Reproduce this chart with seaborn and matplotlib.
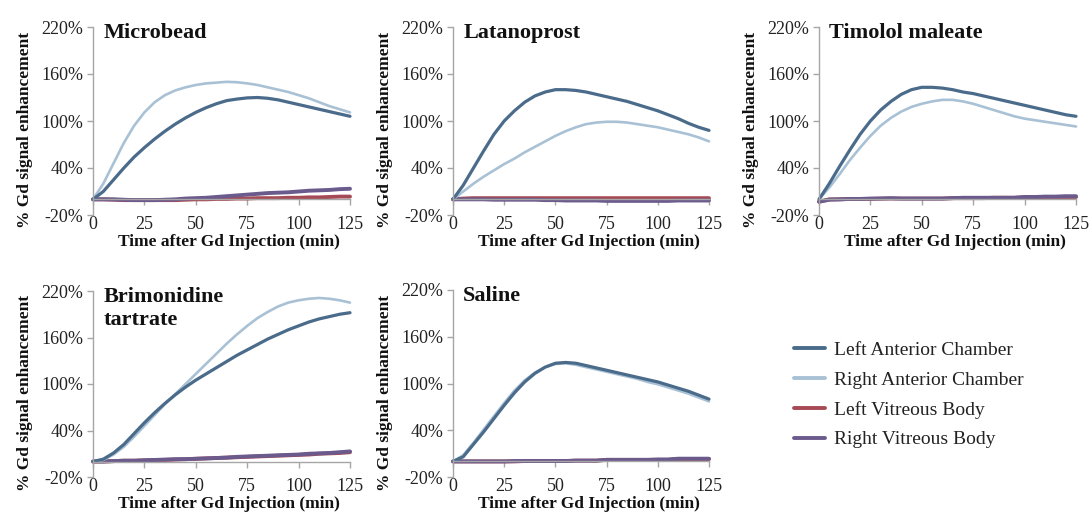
import numpy as np
import pandas as pd
import matplotlib
matplotlib.use("Agg")
import matplotlib.pyplot as plt
from matplotlib.ticker import FuncFormatter
from matplotlib.lines import Line2D
import seaborn as sns

sns.set_theme(style="white")
plt.rcParams['font.family'] = ['Liberation Serif', 'DejaVu Serif']

time_min = [0, 5, 10, 15, 20, 25, 30, 35, 40, 45, 50, 55, 60, 65, 70, 75, 80, 85, 90, 95, 100, 105, 110, 115, 120, 125]

series_names = ["Left Anterior Chamber", "Right Anterior Chamber", "Left Vitreous Body", "Right Vitreous Body"]
series_colors = ["#4b6b8b", "#a9c1d5", "#a64a55", "#6b5a8c"]

panel_titles = ["Microbead", "Latanoprost", "Timolol maleate", "Brimonidine\ntartrate", "Saline"]

# Microbead
mb_lac = [0, 10, 25, 40, 54, 66, 77, 87, 96, 104, 111, 117, 122, 126, 128, 129.5, 130, 129, 127, 124, 121, 118, 115, 112, 109, 106]
mb_rac = [0, 20, 46, 72, 94, 111, 124, 133, 139, 143, 146, 148, 149, 150, 149.5, 148, 146, 143, 140, 137, 133, 129, 124, 119, 115, 111]
mb_lvb = [0, 0, -0.5, -1, -1, -1, -1, -1, -1, -0.5, 0, 0, 0.5, 0.5, 1, 1, 1.5, 1.5, 1.5, 2, 2, 2.5, 2.5, 3, 3.5, 3.5]
mb_rvb = [0, 0, 0, -0.5, -1, -1, -1, -0.5, 0, 1, 1.5, 2, 3, 4, 5, 6, 7, 8, 8.5, 9, 10, 11, 11.5, 12, 13, 13.5]

# Latanoprost
la_lac = [0, 18, 40, 62, 83, 100, 113, 124, 132, 137, 140, 140, 139, 137, 134, 131, 128, 125, 121, 117, 113, 108, 103, 97, 92, 88]
la_rac = [0, 10, 20, 29, 37, 45, 52, 60, 67, 74, 81, 87, 92, 96, 98, 99, 99, 98, 96, 94, 92, 89, 86, 83, 79, 74]
la_lvb = [0, 1, 1.5, 1.5, 1.5, 1.5, 1.5, 1.5, 1.5, 1.5, 1.5, 1.5, 1.5, 1.5, 1.5, 1.5, 1.5, 1.5, 1.5, 1.5, 1.5, 1.5, 1.5, 1.5, 1.5, 1.5]
la_rvb = [0, 0, 0, 0, -0.5, -0.5, -0.5, -0.5, -0.5, -1, -1, -1.5, -1.5, -1.5, -1.5, -2, -2, -2, -2, -2, -2, -2, -1.5, -1.5, -1.5, -1.5]

# Timolol maleate
ti_lac = [0, 20, 42, 63, 83, 100, 114, 125, 134, 140, 143, 143, 142, 140, 137, 135, 132, 129, 126, 123, 120, 117, 114, 111, 108, 106]
ti_rac = [0, 15, 32, 50, 66, 81, 94, 104, 112, 118, 122, 125, 127, 127, 125, 122, 118, 114, 110, 106, 103, 101, 99, 97, 95, 93]
ti_lvb = [-3, 0, 0, 0.5, 0.5, 0.5, 1, 1, 1, 1, 1, 1, 1, 1.5, 1.5, 1.5, 1.5, 2, 2, 2, 2.5, 2.5, 3, 3, 3, 3]
ti_rvb = [-3, -0.5, 0, 0.5, 0.5, 1, 1, 1.5, 1, 1, 1, 1, 1, 1.5, 2, 2, 2, 2, 2, 2, 3, 3, 3.5, 3.5, 4, 4]

# Brimonidine tartrate
br_lac = [0, 3, 11, 22, 36, 50, 63, 75, 86, 96, 105, 113, 121, 129, 137, 144, 151, 158, 164, 170, 175, 180, 184, 187, 190, 192]
br_rac = [0, 2, 9, 19, 32, 46, 60, 74, 87, 100, 113, 126, 139, 152, 164, 175, 185, 193, 200, 205, 208, 210, 211, 210, 208, 205]
br_lvb = [0, 0, 0.5, 1, 1, 1.5, 2, 2, 2.5, 3, 3.5, 4, 4.5, 5, 5.5, 6, 6.5, 7, 7.5, 8, 8.5, 9, 10, 10.5, 11, 12]
br_rvb = [0, 0, 0.5, 1, 1, 1.5, 2, 2.5, 3, 3, 3.5, 4, 4.5, 5, 6, 6.5, 7, 7.5, 8, 8.5, 9, 10, 10.5, 11, 12, 13]

# Saline
sa_lac = [0, 6, 22, 38, 55, 72, 88, 102, 113, 121, 126, 127, 126, 123, 120, 117, 114, 111, 108, 105, 102, 98, 94, 90, 85, 80]
sa_rac = [0, 8, 24, 41, 58, 75, 91, 104, 114, 121, 125, 126, 124, 121, 118, 115, 112, 109, 106, 102, 99, 95, 91, 87, 82, 77]
sa_lvb = [0, 0, 0, 0, 0, 0, 0, 0.5, 0.5, 0.5, 0.5, 0.5, 1, 1, 1, 2, 2, 2, 2, 2, 2, 2, 3, 3, 3, 3]
sa_rvb = [0, 0, 0, 0, 0, 0, 0.5, 0.5, 0.5, 0.5, 0.5, 0.5, 1, 1, 1, 2, 2, 2, 2, 2, 2.5, 2.5, 3.5, 3.5, 3.5, 3.5]

panel_data = [
    [mb_lac, mb_rac, mb_lvb, mb_rvb],
    [la_lac, la_rac, la_lvb, la_rvb],
    [ti_lac, ti_rac, ti_lvb, ti_rvb],
    [br_lac, br_rac, br_lvb, br_rvb],
    [sa_lac, sa_rac, sa_lvb, sa_rvb],
]

y_ticks = [-20, 40, 100, 160, 220]
x_ticks = [0, 25, 50, 75, 100, 125]

W, H = 1092, 519
fig = plt.figure(figsize=(W / 100, H / 100), dpi=100)

# axes boxes in pixels: (left, top, right, bottom)
boxes = [
    (93, 27, 350, 215),
    (453, 27, 709, 215),
    (819, 27, 1076, 215),
    (93, 291, 350, 477),
    (453, 290, 709, 477),
]

widths = [2.3, 1.9, 2.8, 2.8]
axis_gray = "#a6a6a6"

for box, title, data in zip(boxes, panel_titles, panel_data):
    l, t, r, b = box
    ax = fig.add_axes([l / W, 1 - b / H, (r - l) / W, (b - t) / H])
    rows = []
    for name, vals in zip(series_names, data):
        for tm, v in zip(time_min, vals):
            rows.append({"time": tm, "value": v, "series": name})
    df = pd.DataFrame(rows)
    order = [2, 3, 1, 0]
    for i in order:
        sub = df[df["series"] == series_names[i]]
        sns.lineplot(data=sub, x="time", y="value", ax=ax, color=series_colors[i],
                     linewidth=widths[i], legend=False, clip_on=False)
    ax.set_xlim(0, 125)
    ax.set_ylim(-20, 220)
    ax.set_yticks(y_ticks)
    ax.set_xticks(x_ticks)
    ax.yaxis.set_major_formatter(FuncFormatter(lambda v, p: f"{int(v)}%"))
    for s in ["top", "right"]:
        ax.spines[s].set_visible(False)
    ax.spines["bottom"].set_position(("data", 0))
    ax.spines["bottom"].set_color(axis_gray)
    ax.spines["left"].set_color(axis_gray)
    ax.spines["bottom"].set_linewidth(1.0)
    ax.spines["left"].set_linewidth(1.0)
    ax.tick_params(axis="x", direction="out", length=4, width=1, color=axis_gray,
                   pad=8, labelsize=13, labelcolor="#222222", bottom=True)
    ax.tick_params(axis="y", direction="out", length=4, width=1, color=axis_gray,
                   pad=3, labelsize=13, labelcolor="#222222", left=True)
    ax.set_xlabel("Time after Gd Injection (min)", fontsize=12.5, fontweight="bold", color="#111111")
    ax.set_ylabel("% Gd signal enhancement", fontsize=12.5, fontweight="bold", color="#111111")
    ax.xaxis.set_label_coords(0.53, -0.10)
    ax.yaxis.set_label_coords(-0.235, 0.45)
    ax.text(0.04, 1.02, title, transform=ax.transAxes, fontsize=16, fontweight="bold",
            va="top", ha="left", color="#111111", linespacing=1.15)
    ax.set_facecolor("white")

handles = [Line2D([0], [0], color=c, linewidth=2.8) for c in series_colors]
fig.legend(handles, series_names, loc="upper left", bbox_to_anchor=(776 / W, 1 - 324 / H),
           frameon=False, fontsize=14, handlelength=1.6, handletextpad=0.5, labelspacing=0.62,
           labelcolor="#222222")

fig.savefig("out.png", dpi=100, facecolor="white")
